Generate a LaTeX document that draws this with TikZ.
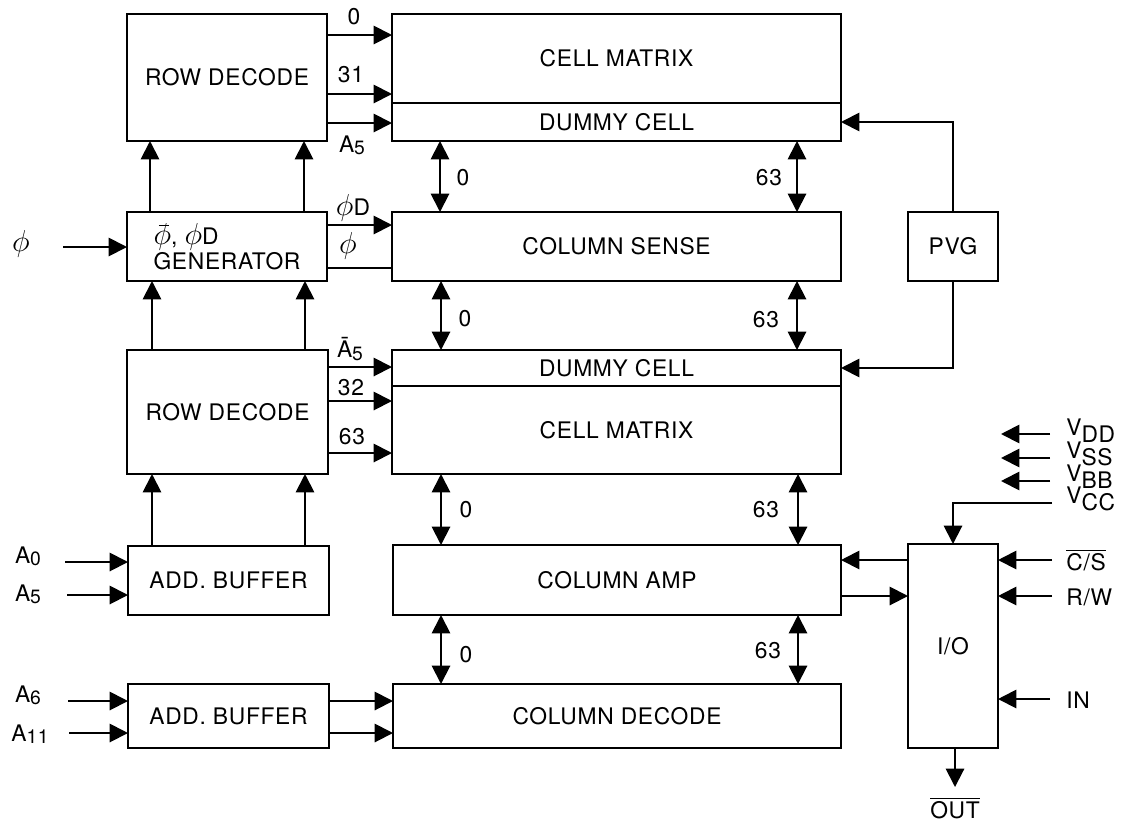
\documentclass[tikz,border=0pt]{standalone}
\usepackage{fontspec}
\setmainfont{TeX Gyre Heros}[LetterSpace=3]
\usetikzlibrary{arrows.meta}
\newcommand\sbA[1]{\raisebox{-1.2pt}{\fontsize{11}{12}\selectfont #1}}
\newcommand\sbV[1]{\raisebox{-3.8pt}{#1}}
\newcommand\bigphi{{\fontsize{16}{18}\selectfont$\phi$}}
\newcommand\blockat[6]{\node[blk,minimum width={(#4-#2)*0.57pt},minimum height={(#5-#3)*0.57pt}] (#1) at ({(#2+#4)/2},{(#3+#5)/2}) {#6};}
\begin{document}
\begin{tikzpicture}[x=0.57pt,y=-0.57pt,
  every node/.style={font=\fontsize{13}{16}\selectfont},
  blk/.style={draw,line width=1.1pt,inner sep=0pt,outer sep=0pt},
  lbl/.style={inner sep=0pt},
  arr/.style={-{Triangle[length=10.5pt,width=10.5pt]},line width=1.1pt},
  darr/.style={{Triangle[length=10.5pt,width=10.5pt]}-{Triangle[length=10.5pt,width=10.5pt]},line width=1.1pt},
  ln/.style={line width=1.1pt}]
\useasboundingbox (0,0) rectangle (1134,825);
% blocks
\blockat{rd1}{127}{14}{327}{141}{ROW DECODE}
\blockat{cm1}{392}{14}{841}{103}{CELL MATRIX}
\blockat{dc1}{392}{103}{841}{141}{DUMMY CELL}
\node[blk,align=left,minimum width={200*0.57pt},minimum height={69*0.57pt}] (gen) at (227,246.5) {\bigphi\llap{\raisebox{1.6ex}{\rule{6pt}{0.5pt}}\hspace{1pt}}, \bigphi D\\[-2pt]GENERATOR};
\blockat{cs}{392}{212}{841}{281}{COLUMN SENSE}
\blockat{pvg}{908}{212}{998}{281}{PVG}
\blockat{rd2}{127}{350}{328}{474}{ROW DECODE}
\blockat{dc2}{392}{350}{841}{386}{DUMMY CELL}
\blockat{cm2}{392}{386}{841}{474}{CELL MATRIX}
\blockat{ab1}{128}{546}{329}{615}{ADD. BUFFER}
\blockat{ca}{393}{545}{841}{615}{COLUMN AMP}
\blockat{ab2}{128}{684}{329}{748}{ADD. BUFFER}
\blockat{cd}{393}{684}{841}{748}{COLUMN DECODE}
\blockat{io}{908}{544}{998}{748}{I/O}
% row decode 1 outputs
\draw[arr] (rd1.east |- 0,35) -- (cm1.west |- 0,35);
\draw[arr] (rd1.east |- 0,94) -- (cm1.west |- 0,94);
\draw[arr] (rd1.east |- 0,123) -- (dc1.west |- 0,123);
\node[lbl] (l0a) at (354,17) {0};
\node[lbl] (l31) at (351,75) {31};
\node[lbl] (la5) at (352,145) {A\sbA{5}};
% generator
\draw[arr] (gen.north -| 150,0) -- (rd1.south -| 150,0);
\draw[arr] (gen.north -| 304,0) -- (rd1.south -| 304,0);
\coordinate (phin) at (63,247);
\draw[arr] (phin) -- (gen.west |- phin);
\node[lbl] (lphi) at (21,244) {\bigphi};
\draw[arr] (gen.east |- 0,225) -- (cs.west |- 0,225);
\draw[ln] (gen.east |- 0,268) -- (cs.west |- 0,268);
\node[lbl] (lphid) at (353,208) {\bigphi D};
\node[lbl] (lphi2) at (348,246) {\bigphi};
% column links
\draw[darr] (dc1.south -| 440,0) -- (cs.north -| 440,0);
\draw[darr] (dc1.south -| 797,0) -- (cs.north -| 797,0);
\node[lbl] (n1) at (463,178) {0};
\node[lbl] (n2) at (769,178) {63};
\draw[darr] (cs.south -| 441,0) -- (dc2.north -| 441,0);
\draw[darr] (cs.south -| 797,0) -- (dc2.north -| 797,0);
\node[lbl] (n3) at (465,319) {0};
\node[lbl] (n4) at (766,320) {63};
\draw[darr] (cm2.south -| 441,0) -- (ca.north -| 441,0);
\draw[darr] (cm2.south -| 798,0) -- (ca.north -| 798,0);
\node[lbl] (n5) at (466,510) {0};
\node[lbl] (n6) at (766,510) {63};
\draw[darr] (ca.south -| 441,0) -- (cd.north -| 441,0);
\draw[darr] (ca.south -| 798,0) -- (cd.north -| 798,0);
\node[lbl] (n7) at (466,655) {0};
\node[lbl] (n8) at (768,651) {63};
% PVG
\draw[arr] (pvg.north) |- (dc1.east);
\draw[arr] (pvg.south) |- (dc2.east);
% row decode 2
\draw[arr] (rd2.north -| 152,0) -- (gen.south -| 152,0);
\draw[arr] (rd2.north -| 305,0) -- (gen.south -| 305,0);
\draw[arr] (rd2.east |- 0,367) -- (dc2.west |- 0,367);
\draw[arr] (rd2.east |- 0,401) -- (cm2.west |- 0,401);
\draw[arr] (rd2.east |- 0,453) -- (cm2.west |- 0,453);
\node[lbl] (lna5) at (350,349) {\=A\sbA{5}};
\node[lbl] (l32) at (351,388) {32};
\node[lbl] (l63) at (352,437) {63};
% address buffer 1
\draw[arr] (ab1.north -| 152,0) -- (rd2.south -| 152,0);
\draw[arr] (ab1.north -| 305,0) -- (rd2.south -| 305,0);
\coordinate (a0) at (65,562);
\coordinate (a5) at (67,595);
\draw[arr] (a0) -- (ab1.west |- a0);
\draw[arr] (a5) -- (ab1.west |- a5);
\node[lbl] (la0) at (28,556) {A\sbA{0}};
\node[lbl] (la5b) at (28,594) {A\sbA{5}};
% address buffer 2
\coordinate (a6) at (68,701);
\coordinate (a11) at (69,733);
\draw[arr] (a6) -- (ab2.west |- a6);
\draw[arr] (a11) -- (ab2.west |- a11);
\node[lbl] (la6) at (28,695) {A\sbA{6}};
\node[lbl] (la11) at (30,734) {A\sbA{11}};
\draw[arr] (ab2.east |- a6) -- (cd.west |- a6);
\draw[arr] (ab2.east |- a11) -- (cd.west |- a11);
% I/O
\draw[arr] (io.west |- 0,560) -- (ca.east |- 0,560);
\draw[arr] (ca.east |- 0,596) -- (io.west |- 0,596);
\coordinate (vdd) at (1050,434);
\coordinate (vss) at (1050,458);
\coordinate (vbb) at (1050,481);
\coordinate (vcc) at (1052,503);
\coordinate (vddt) at (1001,434);
\coordinate (vsst) at (1001,458);
\coordinate (vbbt) at (1001,481);
\draw[arr] (vdd) -- (vddt);
\draw[arr] (vss) -- (vsst);
\draw[arr] (vbb) -- (vbbt);
\draw[arr] (vcc) -| (io.north);
\node[lbl,anchor=west] (lvdd) at (1066,431) {V\sbV{DD}};
\node[lbl,anchor=west] (lvss) at (1066,454) {V\sbV{SS}};
\node[lbl,anchor=west] (lvbb) at (1066,477) {V\sbV{BB}};
\node[lbl,anchor=west] (lvcc) at (1066,499) {V\sbV{CC}};
\coordinate (csin) at (1052,560);
\coordinate (rwin) at (1052,596);
\coordinate (inin) at (1050,699);
\draw[arr] (csin) -- (io.east |- csin);
\draw[arr] (rwin) -- (io.east |- rwin);
\draw[arr] (inin) -- (io.east |- inin);
\node[lbl,anchor=west] (lcs) at (1066,560) {$\overline{\mbox{C/S}}$};
\node[lbl,anchor=west] (lrw) at (1066,597) {R/W};
\node[lbl,anchor=west] (lin) at (1066,700) {IN};
\coordinate (outp) at (955,787);
\draw[arr] (io.south -| outp) -- (outp);
\node[lbl] (lout) at (955,808) {$\overline{\mbox{OUT}}$};
\end{tikzpicture}
\end{document}
